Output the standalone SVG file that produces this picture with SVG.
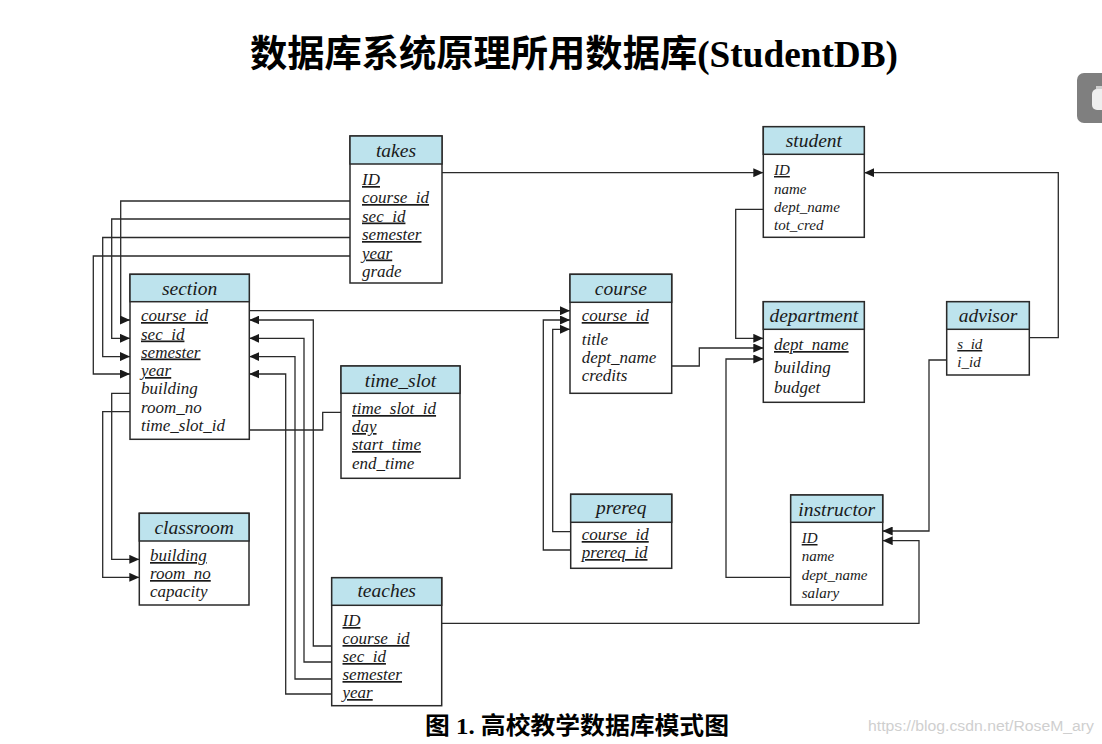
<svg xmlns="http://www.w3.org/2000/svg" width="1102" height="744" viewBox="0 0 1102 744">
<style>
.bx{fill:#fff;stroke:#2a2a2a;stroke-width:1.5}
.hd{fill:#bde3ed;stroke:#2a2a2a;stroke-width:1.5}
.h{font-family:"Liberation Serif",serif;font-style:italic;font-size:19.5px;text-anchor:middle;fill:#1a1a1a}
.a{font-family:"Liberation Serif",serif;font-style:italic;font-size:17px;fill:#1a1a1a}
.s{font-size:15px}
.u{text-decoration:underline;text-decoration-color:#777}
.c{fill:none;stroke:#2a2a2a;stroke-width:1.3}
.ar{marker-end:url(#arr)}
</style>
<defs>
<marker id="arr" markerUnits="userSpaceOnUse" markerWidth="10" markerHeight="9" refX="10" refY="4.5" orient="auto">
<path d="M0,0 L10,4.5 L0,9 z" fill="#1a1a1a"/>
</marker>
</defs>
<rect width="1102" height="744" fill="#fff"/>
<text x="250" y="67" font-family="'Liberation Serif','Noto Sans CJK SC',serif" font-weight="bold" font-size="37" textLength="648" lengthAdjust="spacingAndGlyphs" fill="#000">数据库系统原理所用数据库(StudentDB)</text>
<g id="corner">
<rect x="1077" y="73" width="35" height="50" rx="7" fill="#7f7f7f"/>
<rect x="1092" y="89" width="14" height="21" rx="5" fill="#efefef"/>
<rect x="1096" y="86" width="8" height="3" fill="#cfcfcf"/>
</g>
<g id="connectors">
<path class="c ar" d="M442,172.7 H763.3"/>
<path class="c ar" d="M350,201 H120.7 V320 H130"/>
<path class="c ar" d="M350,219 H111.7 V338.3 H130"/>
<path class="c ar" d="M350,237.5 H102.7 V356.6 H130"/>
<path class="c ar" d="M350,256 H93.3 V374 H130"/>
<path class="c ar" d="M130,393.3 H111.7 V559.3 H139.3"/>
<path class="c ar" d="M130,411.7 H102.7 V577.3 H139.3"/>
<path class="c" d="M249.3,430 H322.7 V412.3 H341"/>
<path class="c ar" d="M249.3,310.7 H570"/>
<path class="c ar" d="M331.7,646 H313.3 V320 H249.3"/>
<path class="c ar" d="M331.7,662 H304 V338.3 H249.3"/>
<path class="c ar" d="M331.7,679 H295 V356.6 H249.3"/>
<path class="c ar" d="M331.7,694 H285.7 V374 H249.3"/>
<path class="c ar" d="M441.7,623.3 H919 V540.7 H882.7"/>
<path class="c ar" d="M570.7,531.7 H552.7 V329.3 H570"/>
<path class="c ar" d="M570.7,550 H543.3 V320 H570"/>
<path class="c ar" d="M671.7,366 H699.3 V348 H763.3"/>
<path class="c ar" d="M763.3,209.3 H735.7 V338.3 H763.3"/>
<path class="c ar" d="M790.7,577.3 H726 V359 H763.3"/>
<path class="c ar" d="M1029.3,337.7 H1058.3 V172.7 H864.3"/>
<path class="c ar" d="M946.7,360 H929 V531 H882.7"/>
</g>
<g id="takes">
<rect class="bx" x="350" y="136" width="92" height="147"/>
<rect class="hd" x="350" y="136" width="92" height="28"/>
<text class="h" x="396" y="156.5">takes</text>
<text class="a u" x="362" y="185">ID</text>
<text class="a u" x="362" y="203">course_id</text>
<text class="a u" x="362" y="221.5">sec_id</text>
<text class="a u" x="362" y="240">semester</text>
<text class="a u" x="362" y="258.5">year</text>
<text class="a" x="362" y="277">grade</text>
</g>
<g id="section">
<rect class="bx" x="130" y="274.3" width="119.3" height="165"/>
<rect class="hd" x="130" y="274.3" width="119.3" height="27.4"/>
<text class="h" x="189.6" y="294.5">section</text>
<text class="a u" x="141" y="321">course_id</text>
<text class="a u" x="141" y="339.5">sec_id</text>
<text class="a u" x="141" y="357.5">semester</text>
<text class="a u" x="141" y="376">year</text>
<text class="a" x="141" y="394">building</text>
<text class="a" x="141" y="412.5">room_no</text>
<text class="a" x="141" y="431">time_slot_id</text>
</g>
<g id="time_slot">
<rect class="bx" x="341" y="366" width="119" height="112.3"/>
<rect class="hd" x="341" y="366" width="119" height="27.3"/>
<text class="h" x="400.5" y="386.5">time_slot</text>
<text class="a u" x="352" y="414">time_slot_id</text>
<text class="a u" x="352" y="432">day</text>
<text class="a u" x="352" y="450">start_time</text>
<text class="a" x="352" y="469">end_time</text>
</g>
<g id="classroom">
<rect class="bx" x="139.3" y="513.3" width="109.7" height="91.7"/>
<rect class="hd" x="139.3" y="513.3" width="109.7" height="27.7"/>
<text class="h" x="194.2" y="533.5">classroom</text>
<text class="a u" x="150" y="561">building</text>
<text class="a u" x="150" y="579">room_no</text>
<text class="a" x="150" y="597">capacity</text>
</g>
<g id="teaches">
<rect class="bx" x="331.7" y="577.7" width="110" height="128"/>
<rect class="hd" x="331.7" y="577.7" width="110" height="27.6"/>
<text class="h" x="386.7" y="597">teaches</text>
<text class="a u" x="342.5" y="626">ID</text>
<text class="a u" x="342.5" y="644">course_id</text>
<text class="a u" x="342.5" y="662">sec_id</text>
<text class="a u" x="342.5" y="680">semester</text>
<text class="a u" x="342.5" y="698">year</text>
</g>
<g id="course">
<rect class="bx" x="570" y="274.3" width="101.7" height="119"/>
<rect class="hd" x="570" y="274.3" width="101.7" height="28"/>
<text class="h" x="620.8" y="294.5">course</text>
<text class="a u" x="581.7" y="321">course_id</text>
<text class="a" x="581.7" y="345">title</text>
<text class="a" x="581.7" y="363">dept_name</text>
<text class="a" x="581.7" y="381">credits</text>
</g>
<g id="prereq">
<rect class="bx" x="570.7" y="494.3" width="101" height="74"/>
<rect class="hd" x="570.7" y="494.3" width="101" height="28"/>
<text class="h" x="621.2" y="514">prereq</text>
<text class="a u" x="581.7" y="540">course_id</text>
<text class="a u" x="581.7" y="558">prereq_id</text>
</g>
<g id="student">
<rect class="bx" x="763.3" y="126.7" width="101" height="110.6"/>
<rect class="hd" x="763.3" y="126.7" width="101" height="27.6"/>
<text class="h" x="813.8" y="147">student</text>
<text class="a s u" x="774" y="175">ID</text>
<text class="a s" x="774" y="193.5">name</text>
<text class="a s" x="774" y="212">dept_name</text>
<text class="a s" x="774" y="230">tot_cred</text>
</g>
<g id="department">
<rect class="bx" x="763.3" y="301.7" width="101" height="100.6"/>
<rect class="hd" x="763.3" y="301.7" width="101" height="27.6"/>
<text class="h" x="813.8" y="322">department</text>
<text class="a u" x="774" y="350">dept_name</text>
<text class="a" x="774" y="373">building</text>
<text class="a" x="774" y="393">budget</text>
</g>
<g id="advisor">
<rect class="bx" x="946.7" y="301.7" width="82.6" height="73.3"/>
<rect class="hd" x="946.7" y="301.7" width="82.6" height="27.6"/>
<text class="h" x="988" y="322">advisor</text>
<text class="a s u" x="957.3" y="349">s_id</text>
<text class="a s" x="957.3" y="367">i_id</text>
</g>
<g id="instructor">
<rect class="bx" x="790.7" y="495" width="92" height="110"/>
<rect class="hd" x="790.7" y="495" width="92" height="27.3"/>
<text class="h" x="836.7" y="515.5">instructor</text>
<text class="a s u" x="801.7" y="543">ID</text>
<text class="a s" x="801.7" y="561">name</text>
<text class="a s" x="801.7" y="579.5">dept_name</text>
<text class="a s" x="801.7" y="598">salary</text>
</g>
<text x="425" y="734" font-family="'Liberation Serif','Noto Sans CJK SC',serif" font-weight="bold" font-size="24" textLength="304" lengthAdjust="spacingAndGlyphs" fill="#000">图 1. 高校教学数据库模式图</text>
<text x="868" y="731" font-family="'Liberation Sans',sans-serif" font-size="14" textLength="226" lengthAdjust="spacingAndGlyphs" fill="#cfcfcf">https://blog.csdn.net/RoseM_ary</text>
</svg>
